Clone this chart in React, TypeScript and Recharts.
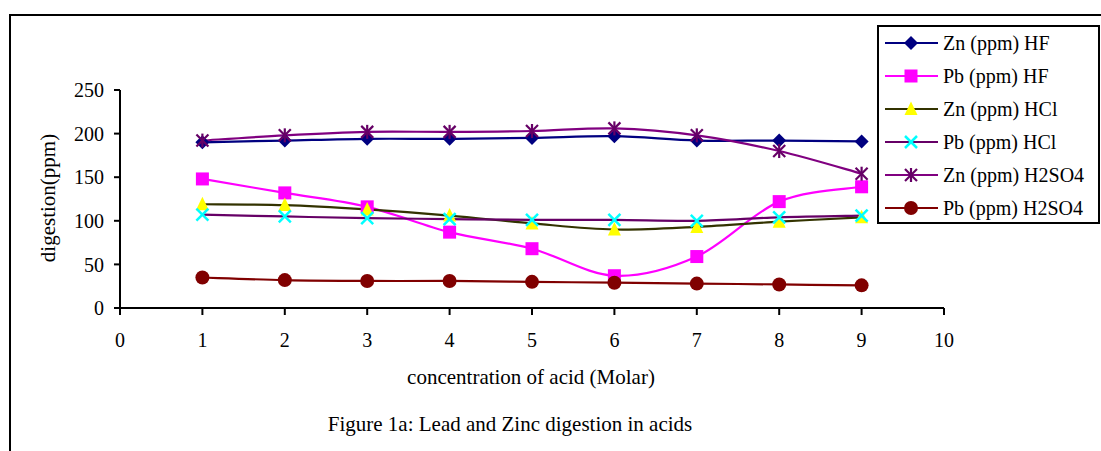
import React from 'react';
import { LineChart, Line, XAxis, YAxis, Legend } from 'recharts';

const concentrations = [1, 2, 3, 4, 5, 6, 7, 8, 9];
const znHF = [190, 192, 194, 194, 195, 197, 192, 192, 191];
const pbHF = [148, 132, 116, 87, 68, 37, 59, 122, 139];
const znHCl = [119, 118, 113, 106, 97, 90, 93, 99, 104];
const pbHCl = [107, 105, 103, 102, 101, 101, 100, 104, 106];
const znH2SO4 = [192, 198, 202, 202, 203, 206, 198, 180, 154];
const pbH2SO4 = [35, 32, 31, 31, 30, 29, 28, 27, 26];
const xTicks = [0, 1, 2, 3, 4, 5, 6, 7, 8, 9, 10];
const yTicks = [0, 50, 100, 150, 200, 250];

const data = concentrations.map((c, i) => ({
  c,
  znHF: znHF[i],
  pbHF: pbHF[i],
  znHCl: znHCl[i],
  pbHCl: pbHCl[i],
  znH2SO4: znH2SO4[i],
  pbH2SO4: pbH2SO4[i],
}));

const FONT = '"Liberation Serif", "Times New Roman", serif';

type MarkerType = 'diamond' | 'square' | 'triangle' | 'x' | 'star' | 'circle';

const series: { key: string; name: string; stroke: string; fill: string; marker: MarkerType }[] = [
  { key: 'znHF', name: 'Zn (ppm) HF', stroke: '#000080', fill: '#000080', marker: 'diamond' },
  { key: 'pbHF', name: 'Pb (ppm) HF', stroke: '#FF00FF', fill: '#FF00FF', marker: 'square' },
  { key: 'znHCl', name: 'Zn (ppm) HCl', stroke: '#333300', fill: '#FFFF00', marker: 'triangle' },
  { key: 'pbHCl', name: 'Pb (ppm) HCl', stroke: '#660066', fill: '#00FFFF', marker: 'x' },
  { key: 'znH2SO4', name: 'Zn (ppm) H2SO4', stroke: '#800080', fill: '#660066', marker: 'star' },
  { key: 'pbH2SO4', name: 'Pb (ppm) H2SO4', stroke: '#800000', fill: '#800000', marker: 'circle' },
];

function Marker({ type, cx, cy, fill }: { type: MarkerType; cx: number; cy: number; fill: string }) {
  if (cx == null || cy == null || isNaN(cx) || isNaN(cy)) return <g />;
  switch (type) {
    case 'diamond':
      return <polygon points={`${cx},${cy - 7} ${cx + 7},${cy} ${cx},${cy + 7} ${cx - 7},${cy}`} fill={fill} />;
    case 'square':
      return <rect x={cx - 6.5} y={cy - 6.5} width={13} height={13} fill={fill} />;
    case 'triangle':
      return <polygon points={`${cx},${cy - 7.5} ${cx + 6.5},${cy + 6} ${cx - 6.5},${cy + 6}`} fill={fill} />;
    case 'x':
      return (
        <g stroke={fill} strokeWidth={2.5}>
          <line x1={cx - 6} y1={cy - 6} x2={cx + 6} y2={cy + 6} />
          <line x1={cx - 6} y1={cy + 6} x2={cx + 6} y2={cy - 6} />
        </g>
      );
    case 'star':
      return (
        <g stroke={fill} strokeWidth={2.2}>
          <line x1={cx - 6} y1={cy - 6} x2={cx + 6} y2={cy + 6} />
          <line x1={cx - 6} y1={cy + 6} x2={cx + 6} y2={cy - 6} />
          <line x1={cx} y1={cy - 7} x2={cx} y2={cy + 7} />
        </g>
      );
    case 'circle':
    default:
      return <circle cx={cx} cy={cy} r={7} fill={fill} />;
  }
}

// Excel-like smoothed line (Catmull-Rom style Bezier)
function smoothCurve(context: any) {
  let pts: [number, number][] = [];
  return {
    areaStart() {},
    areaEnd() {},
    lineStart() {
      pts = [];
    },
    point(x: number, y: number) {
      pts.push([+x, +y]);
    },
    lineEnd() {
      if (!pts.length) return;
      context.moveTo(pts[0][0], pts[0][1]);
      for (let i = 0; i < pts.length - 1; i++) {
        const p0 = pts[i - 1] || pts[i];
        const p1 = pts[i];
        const p2 = pts[i + 1];
        const p3 = pts[i + 2] || p2;
        context.bezierCurveTo(
          p1[0] + (p2[0] - p0[0]) / 6,
          p1[1] + (p2[1] - p0[1]) / 6,
          p2[0] - (p3[0] - p1[0]) / 6,
          p2[1] - (p3[1] - p1[1]) / 6,
          p2[0],
          p2[1]
        );
      }
    },
  };
}

function LegendBox() {
  return (
    <div
      style={{
        position: 'relative',
        width: 223,
        height: 199,
        border: '2px solid #000',
        boxSizing: 'border-box',
        background: '#fff',
        fontFamily: FONT,
        fontSize: 20,
        color: '#000',
      }}
    >
      {series.map((s, i) => (
        <div
          key={s.key}
          style={{ position: 'absolute', left: 0, top: 16 + 33 * i - 12, height: 24, display: 'flex', alignItems: 'center' }}
        >
          <svg width={64} height={24} style={{ display: 'block' }}>
            <line x1={6} y1={12} x2={59} y2={12} stroke={s.stroke} strokeWidth={2} />
            <Marker type={s.marker} cx={32} cy={12} fill={s.fill} />
          </svg>
          <span style={{ whiteSpace: 'nowrap', marginLeft: 0 }}>{s.name}</span>
        </div>
      ))}
    </div>
  );
}

const textStyle: React.CSSProperties = {
  position: 'absolute',
  fontFamily: FONT,
  fontSize: 21,
  color: '#000',
  whiteSpace: 'nowrap',
  transform: 'translate(-50%, -50%)',
  lineHeight: 1,
};

export default function App() {
  return (
    <div style={{ position: 'absolute', left: 0, top: 0, width: 1101, height: 451, background: '#fff', overflow: 'hidden' }}>
      <div
        style={{
          position: 'absolute',
          left: 9,
          top: 14,
          width: 1100,
          height: 450,
          borderTop: '2px solid #000',
          borderLeft: '2px solid #000',
        }}
      />
      <div style={{ position: 'absolute', left: 0, top: 0 }}>
        <LineChart width={1101} height={451} data={data} margin={{ top: 90, right: 157, bottom: 113, left: 60 }}>
          <XAxis
            dataKey="c"
            type="number"
            domain={[0, 10]}
            ticks={xTicks}
            interval={0}
            axisLine={{ stroke: '#000', strokeWidth: 2 }}
            tickLine={{ stroke: '#000', strokeWidth: 2 }}
            tickSize={7}
            tickMargin={18}
            tick={{ fill: '#000', fontFamily: FONT, fontSize: 20 }}
            height={30}
          />
          <YAxis
            type="number"
            domain={[0, 250]}
            ticks={yTicks}
            interval={0}
            axisLine={{ stroke: '#000', strokeWidth: 2 }}
            tickLine={{ stroke: '#000', strokeWidth: 2 }}
            tickSize={6}
            tickMargin={10}
            tick={{ fill: '#000', fontFamily: FONT, fontSize: 20 }}
            width={60}
          />
          <Legend
            layout="vertical"
            align="center"
            verticalAlign="middle"
            wrapperStyle={{ left: 877, top: 25, width: 223, height: 199 }}
            content={() => <LegendBox />}
          />
          {series.map((s) => (
            <Line
              key={s.key}
              dataKey={s.key}
              name={s.name}
              type={smoothCurve as any}
              stroke={s.stroke}
              strokeWidth={2.2}
              isAnimationActive={false}
              dot={(p: any) => <Marker key={`${s.key}-${p.index}`} type={s.marker} cx={p.cx} cy={p.cy} fill={s.fill} />}
              activeDot={false}
            />
          ))}
        </LineChart>
      </div>
      <div style={{ ...textStyle, left: 48, top: 198, transform: 'translate(-50%, -50%) rotate(-90deg)' }}>digestion(ppm)</div>
      <div style={{ ...textStyle, left: 531, top: 377 }}>concentration of acid (Molar)</div>
      <div style={{ ...textStyle, left: 510, top: 424 }}>Figure 1a: Lead and Zinc digestion in acids</div>
    </div>
  );
}
